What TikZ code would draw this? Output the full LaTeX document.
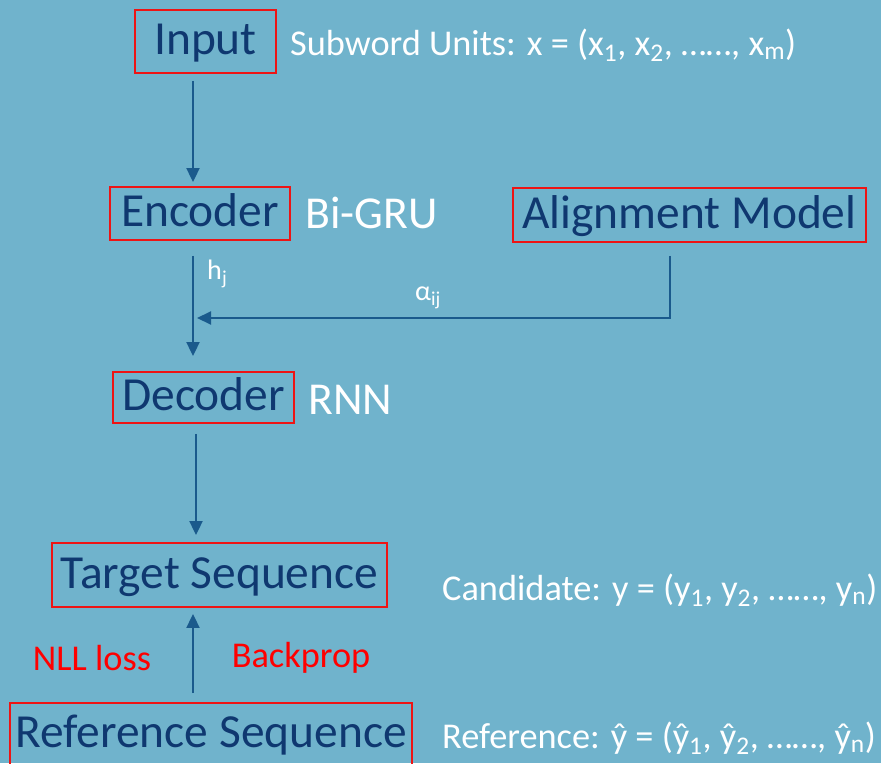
\documentclass[tikz,border=0pt]{standalone}
\usepackage{fontspec}
\setmainfont{Carlito}
\usetikzlibrary{arrows.meta}

\definecolor{slide}{RGB}{112,179,204}
\definecolor{navy}{RGB}{15,56,112}
\definecolor{steel}{RGB}{26,90,140}
\definecolor{boxred}{RGB}{238,20,20}

\newlength{\pxu}
\setlength{\pxu}{0.03cm}

\begin{document}
\begin{tikzpicture}[x=0.03cm, y=-0.03cm,
        block/.style = {draw=boxred, line width=1.6pt, text=navy, inner sep=0pt,
                        text height=30pt, text depth=7pt,
                        font=\fontsize{40.5}{46}\selectfont},
        side/.style = {anchor=west, text=white, inner sep=0pt, font=\fontsize{31}{36}\selectfont},
        small/.style = {text=white, inner sep=0pt, font=\fontsize{24}{28}\selectfont},
        note/.style = {text=red, inner sep=0pt, font=\fontsize{31}{36}\selectfont},
        arrow/.style = {draw=steel, line width=1.7pt, -{Triangle[length=0.42cm, width=0.39cm]}}]
            \clip (0,0) rectangle (881,763);
            \fill[slide] (0,0) rectangle (881,763);

            \node[block, minimum width=141\pxu, minimum height=63\pxu] (input) at (205.5,41.5) {Input};
            \node[block, minimum width=180\pxu, minimum height=53\pxu] (encoder) at (200,213.5) {Encoder};
            \node[block, minimum width=353\pxu, minimum height=54\pxu] (align) at (689.5,215) {Alignment Model};
            \node[block, minimum width=181\pxu, minimum height=51\pxu] (decoder) at (203.5,397.5) {Decoder};
            \node[block, minimum width=335\pxu, minimum height=64\pxu] (target) at (219.5,575) {Target Sequence};
            \node[block, minimum width=402\pxu, minimum height=63\pxu] (ref) at (211,734.5) {Reference Sequence};

            \node[side] (units) at (290,45) {Subword Units: x = (x\textsubscript{1}, x\textsubscript{2}, ……, x\textsubscript{m})};
            \node[side, font=\fontsize{39}{44}\selectfont] (bigru) at (305,213) {Bi-GRU};
            \node[side, font=\fontsize{39}{44}\selectfont] (rnn) at (308,400) {RNN};
            \node[side] (cand) at (442,590) {Candidate: y = (y\textsubscript{1}, y\textsubscript{2}, ……, y\textsubscript{n})};
            \node[side] (refout) at (442,738) {Reference: ŷ = (ŷ\textsubscript{1}, ŷ\textsubscript{2}, ……, ŷ\textsubscript{n})};

            \node[small, anchor=west] (hj) at (207,274) {h\textsubscript{j}};
            \node[small] (aij) at (428,298) {α\textsubscript{ij}};
            \node[note] (nll) at (92,658) {NLL loss};
            \node[note] (backprop) at (301,658) {Backprop};

            \coordinate (merge) at (197,318);

            \draw[arrow] ([shift={(-12.5,7)}]input.south) -- ([shift={(-7,-4)}]encoder.north);
            \draw[arrow] ([shift={(-7,15)}]encoder.south) -- ([shift={(-10.5,-15)}]decoder.north);
            \draw[arrow] ([shift={(-19.5,13)}]align.south) |- (merge);
            \draw[arrow] ([shift={(-7.5,10)}]decoder.south) -- ([shift={(-23.5,-7)}]target.north);
            \draw[arrow] ([shift={(-18,-9)}]ref.north) -- ([shift={(-26.5,6)}]target.south);
        \end{tikzpicture}
\end{document}
